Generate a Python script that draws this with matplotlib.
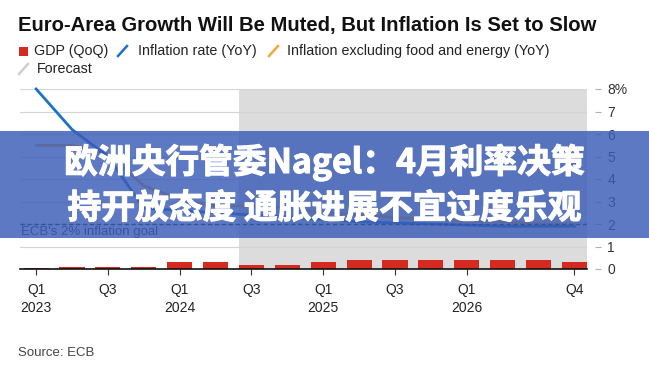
import numpy as np
import matplotlib.pyplot as plt
import matplotlib.patheffects as pe
from matplotlib.patches import Rectangle
from matplotlib.lines import Line2D

# quarterly data, Q1 2023 .. Q4 2026 (forecast from Q3 2024)
quarters = ["Q1 2023", "Q2 2023", "Q3 2023", "Q4 2023",
            "Q1 2024", "Q2 2024", "Q3 2024", "Q4 2024",
            "Q1 2025", "Q2 2025", "Q3 2025", "Q4 2025",
            "Q1 2026", "Q2 2026", "Q3 2026", "Q4 2026"]
gdp = [0.03, 0.1, 0.1, 0.1, 0.3, 0.3, 0.2, 0.2, 0.3, 0.4, 0.4, 0.4, 0.4, 0.4, 0.4, 0.3]
inflation = [8.0, 6.2, 5.0, 2.7, 2.6, 2.5, 2.4, 2.3, 2.2, 2.1, 2.05, 2.0, 1.95, 1.9, 1.9, 1.9]
core = [5.5, 5.5, 5.1, 3.7, 3.1, 2.8, 2.8, 2.7, 2.5, 2.4, 2.3, 2.2, 2.1, 2.1, 2.0, 2.0]
forecast_from = "Q3 2024"
ecb_goal = 2

tick_quarters = ["Q1 2023", "Q3 2023", "Q1 2024", "Q3 2024", "Q1 2025", "Q3 2025", "Q1 2026", "Q4 2026"]
tick_labels = ["Q1\n2023", "Q3", "Q1\n2024", "Q3", "Q1\n2025", "Q3", "Q1\n2026", "Q4"]
yticks = [0, 1, 2, 3, 4, 5, 6, 7, 8]
ylabels = ["0", "1", "2", "3", "4", "5", "6", "7", "8%"]

title = "Euro-Area Growth Will Be Muted, But Inflation Is Set to Slow"
headline = ["欧洲央行管委Nagel：4月利率决策", "持开放态度 通胀进展不宜过度乐观"]

RED = "#d42a20"
BLUE = "#1a73c7"
ORANGE = "#f2a93b"
FCAST = "#d0d0d0"

plt.rcParams['font.family'] = ['Liberation Sans', 'DejaVu Sans']

W, H = 649, 371
fig = plt.figure(figsize=(W / 100, H / 100), dpi=100)


def fx(x):
    return x / W


def fy(y):
    return 1 - y / H


ax = fig.add_axes([fx(20), fy(269), (587 - 20) / W, 180 / H])

x = np.arange(len(quarters))
bw = 0.7

# forecast shading
fstart = quarters.index(forecast_from) - bw / 2
ax.axvspan(fstart, len(quarters) - 1 + bw / 2, color="#dcdcdc", zorder=0.5, lw=0)

ax.bar(x, gdp, width=bw, color=RED, zorder=2)
ax.plot(x, core, color=ORANGE, lw=2, zorder=3, clip_on=False)
ax.plot(x, inflation, color=BLUE, lw=2, zorder=4, clip_on=False)

ax.axhline(ecb_goal, color="#222222", lw=1, ls=(0, (3, 2)), zorder=5)
ax.text(-0.42, ecb_goal - 0.1, "ECB's 2% inflation goal", fontsize=9.5,
        color="#333333", va="top", ha="left", zorder=5)

ax.set_xlim(-0.45, len(quarters) - 1 + bw / 2)
ax.set_ylim(0, 8)

ax.set_yticks(yticks)
ax.set_yticklabels(ylabels)
ax.yaxis.tick_right()
ax.yaxis.grid(True, color="#d4d4d4", lw=0.8, zorder=0)
ax.set_axisbelow(True)

ax.set_xticks([quarters.index(q) for q in tick_quarters])
ax.set_xticklabels(tick_labels, linespacing=1.35)

for s in ["top", "left"]:
    ax.spines[s].set_visible(False)
ax.spines["right"].set_position(("outward", 6))
ax.spines["right"].set_visible(False)
ax.spines["bottom"].set_color("#111111")
ax.spines["bottom"].set_linewidth(1.2)
ax.spines["bottom"].set_zorder(6)

ax.tick_params(axis="y", length=4.5, color="#b0b0b0", width=0.8, pad=4,
               labelsize=10, labelcolor="#333333")
ax.tick_params(axis="x", length=4, color="#333333", width=0.8, pad=6,
               labelsize=10, labelcolor="#222222")

# title
fig.text(fx(18), fy(25), title, fontsize=14.6, fontweight="bold",
         color="#111111", va="center", ha="left")

# legend
ly1, ly2 = 51, 69
fig.add_artist(Rectangle((fx(19), fy(ly1 + 4.5)), 9 / W, 9 / H,
                         transform=fig.transFigure, color=RED, lw=0))
fig.text(fx(34), fy(ly1), "GDP (QoQ)", fontsize=10.3, va="center", color="#222222")
fig.add_artist(Line2D([fx(118), fx(127)], [fy(ly1 + 5), fy(ly1 - 5)],
                      transform=fig.transFigure, color=BLUE, lw=1.8))
fig.text(fx(138), fy(ly1), "Inflation rate (YoY)", fontsize=10.3, va="center", color="#222222")
fig.add_artist(Line2D([fx(269), fx(278)], [fy(ly1 + 5), fy(ly1 - 5)],
                      transform=fig.transFigure, color=ORANGE, lw=1.8))
fig.text(fx(287), fy(ly1), "Inflation excluding food and energy (YoY)", fontsize=10.3,
         va="center", color="#222222")
fig.add_artist(Line2D([fx(19), fx(28)], [fy(ly2 + 5), fy(ly2 - 5)],
                      transform=fig.transFigure, color=FCAST, lw=1.8))
fig.text(fx(37), fy(ly2), "Forecast", fontsize=10.3, va="center", color="#222222")

fig.text(fx(18), fy(353), "Source: ECB", fontsize=9.5, color="#444444", va="center")

# headline banner over the chart
fig.add_artist(Rectangle((0, fy(238)), 1, (238 - 131) / H, transform=fig.transFigure,
                         color="#3a5cb8", alpha=0.82, lw=0, zorder=5))
heavy = [pe.withStroke(linewidth=0.8, foreground="white")]
fig.text(0.5, fy(162), headline[0], ha="center", va="center", fontsize=24.3,
         fontweight="bold", color="white", zorder=6, path_effects=heavy,
         family=["Noto Sans CJK SC", "DejaVu Sans"])
fig.text(0.5, fy(208), headline[1], ha="center", va="center", fontsize=24.3,
         fontweight="bold", color="white", zorder=6, path_effects=heavy,
         family=["Noto Sans CJK SC", "DejaVu Sans"])

fig.savefig("out.png", dpi=100)
